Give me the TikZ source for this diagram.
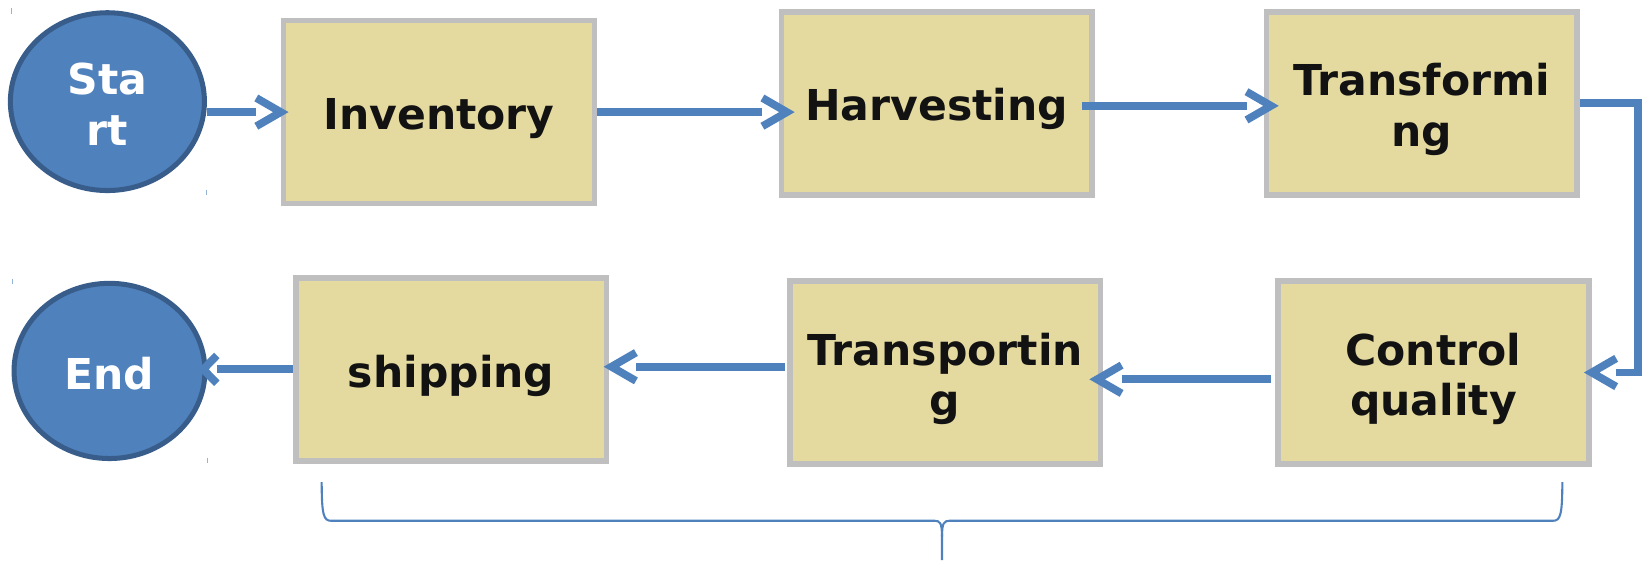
\documentclass[tikz,border=0pt]{standalone}
\usepackage{fontspec}
\setmainfont{DejaVu Sans}
\usetikzlibrary{arrows.meta,shapes.geometric,calc}
\newdimen\chevext
\newdimen\chevback
\pgfdeclarearrow{
  name = Chev,
  parameters = {\the\pgfarrowlength,\the\pgfarrowwidth,\the\pgfarrowlinewidth},
  setup code = {
    \pgfmathsetlength\chevext{0.5*\pgfarrowlinewidth*veclen(\pgfarrowlength,0.5*\pgfarrowwidth)/(0.5*\pgfarrowwidth)}
    \chevback=\pgfarrowlength
    \advance\chevback by \chevext
    \pgfarrowssettipend{0pt}
    \pgfarrowssetlineend{-\chevback}
    \pgfarrowssetbackend{-\chevback}
    \pgfarrowssetvisualbackend{-\chevback}
    \pgfarrowshullpoint{0pt}{0pt}
    \pgfarrowsupperhullpoint{-\chevback}{.5\pgfarrowwidth}
    \pgfarrowssavethe\chevext
    \pgfarrowssavethe\chevback
    \pgfarrowssavethe\pgfarrowwidth
  },
  drawing code = {
    \pgfsetbuttcap
    \pgfsetmiterjoin
    \pgfpathmoveto{\pgfqpoint{-\chevback}{.5\pgfarrowwidth}}
    \pgfpathlineto{\pgfqpoint{-\chevext}{0pt}}
    \pgfpathlineto{\pgfqpoint{-\chevback}{-.5\pgfarrowwidth}}
    \pgfusepathqstroke
  },
  defaults = {length = 11.7pt, width = 13.5pt}
}
\definecolor{cblue}{HTML}{4F81BD}
\definecolor{cdark}{HTML}{385D8A}
\definecolor{cfill}{HTML}{E4DAA0}
\definecolor{cgrey}{HTML}{BFBFBF}
\definecolor{ctext}{HTML}{121212}
\begin{document}
\begin{tikzpicture}[x=0.5pt,y=-0.5pt,
  box/.style={rectangle, draw=cgrey, fill=cfill, line width=2.7pt,
    minimum width=148.3pt, minimum height=87.3pt, inner sep=0pt},
  boxtxt/.style={inner sep=0pt, align=center, text=ctext,
    font=\fontsize{20.3}{24}\selectfont\bfseries},
  term/.style={ellipse, draw=cdark, fill=cblue, line width=2.4pt, inner sep=0pt},
  termtxt/.style={inner sep=0pt, align=center, text=white,
    font=\fontsize{20.3}{24}\selectfont\bfseries},
  conn/.style={draw=cblue, line width=3.7pt, line join=miter,
    -{Chev[length=11.7pt,width=13.5pt]}},
  connsmall/.style={draw=cblue, line width=3.7pt, line join=miter,
    -{Chev[length=6.45pt,width=13.3pt]}},
  brace/.style={draw=cblue, line width=1pt},
  tick/.style={draw=cblue!60, line width=0.6pt}
]
\useasboundingbox (0,0) rectangle (1568,534.5);

% terminals
\node[term, minimum width=92.6pt, minimum height=84.85pt] (start) at (102.5,97) {};
\node[termtxt] (startt) at ($(start.center)+(0,-1.25pt)$) {Sta\\rt};
\node[term, minimum width=91.1pt, minimum height=83.6pt] (en) at (104.5,354) {};
\node[termtxt] (ent) at ($(en.center)+(0,-1.5pt)$) {End};

% process boxes
\node[box] (inv)   at (419,107)    {};
\node[box] (harv)  at (894,98.5)   {};
\node[box] (trans) at (1357,98.5)  {};
\node[box] (cq)    at (1368,355.5) {};
\node[box] (tp)    at (902,355.5)  {};
\node[box] (sh)    at (430.5,352.5){};
\node[boxtxt] (invt)   at ($(inv.center)+(0,-3.2pt)$)   {Inventory};
\node[boxtxt] (harvt)  at ($(harv.center)+(0,-2.6pt)$)  {Harvesting};
\node[boxtxt] (transt) at ($(trans.center)+(0,-3pt)$)   {Transformi\\ng};
\node[boxtxt] (cqt)    at ($(cq.center)+(0,-3pt)$)      {Control\\quality};
\node[boxtxt] (tpt)    at ($(tp.center)+(0,-3pt)$)      {Transportin\\g};
\node[boxtxt] (sht)    at ($(sh.center)+(0,-3pt)$)      {shipping};

% connectors
\draw[conn] (start.east |- inv.west) -- (inv.west);
\draw[conn] (inv.east) -- ($(inv.east -| harv.west)+(4pt,0)$);
\draw[conn] ($(harv.east)+(-6pt,-1.25pt)$) -- ($(harv.east -| trans.west)+(3.5pt,-1.25pt)$);
\draw[conn] (trans.east) -- ++(27.5pt,0) |- (cq.east);
\draw[conn] ($(cq.west)+(-2pt,-3.25pt)$) -- ($(cq.west -| tp.east)+(-3pt,-3.25pt)$);
\draw[conn] ($(tp.west)+(-1pt,2.75pt)$) -- ($(tp.west -| sh.east)+(1pt,2.75pt)$);
\draw[connsmall] (sh.west) -- ($(sh.west -| en.east)+(-2pt,0)$);

% brace
\draw[brace] (307,460) .. controls (307,492) and (309,497) .. (316,497) -- (892,497)
  .. controls (897,497) and (899,499) .. (899,512) -- (899,534.5);
\draw[brace] (899,512) .. controls (899,499) and (901,497) .. (906,497) -- (1482,497)
  .. controls (1489,497) and (1491,492) .. (1491,460);

% small corner ticks
\draw[tick] (11,8) -- (11,13);
\draw[tick] (197,181) -- (197,186);
\draw[tick] (12,266) -- (12,271);
\draw[tick] (198,437) -- (198,442);
\end{tikzpicture}
\end{document}
